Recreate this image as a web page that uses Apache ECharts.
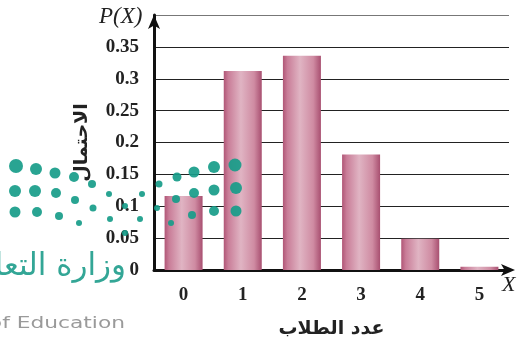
<!DOCTYPE html>
<html><head><meta charset="utf-8">
<script src="https://cdn.jsdelivr.net/npm/echarts@6/dist/echarts.min.js"></script>
<style>html,body{margin:0;padding:0;background:#fff}#c{width:517px;height:338px}</style>
</head><body><div id="c"></div>
<script>
const categories = ['0','1','2','3','4','5'];
const probabilities = [0.116, 0.312, 0.336, 0.181, 0.049, 0.005];
const yTicks = [0, 0.05, 0.1, 0.15, 0.2, 0.25, 0.3, 0.35, 0.4];
const yAxisTitle = 'الاحتمال';
const xAxisTitle = 'عدد الطلاب';

const serif = '"Liberation Serif","DejaVu Serif",serif';
const teal = '#179c89';
const dots = [
 [16,166,7],[36,169,6],[55,173,5.5],[74,177,5],[92,184,4],
 [15,191,6],[35,191,6],[56,193,5],[75,200,4],[93,208,3.5],
 [15,212,5.5],[37,212,5],[59,216,4],[79,223,3],
 [109,194,3],[110,219,3],[125,206,3],[142,194,3],[140,219,3],[125,233,3],
 [159,184,3.5],[157,208,3],
 [177,177,4.5],[194,172,5.5],[214,167,6],[235,165,6.5],
 [176,199,4],[194,193,5],[214,190,5.5],[236,188,6],
 [171,223,3],[192,215,4],[214,211,5],[236,211,5.5]
];

const chart = echarts.init(document.getElementById('c'), null, {renderer:'canvas'});
const barGrad = new echarts.graphic.LinearGradient(0,0,1,0,[
  {offset:0,color:'#b05676'},{offset:0.12,color:'#c97d98'},
  {offset:0.45,color:'#e0b4c3'},{offset:0.8,color:'#cf8ba2'},{offset:1,color:'#a84f70'}]);

chart.setOption({
  animation:false,
  grid:{left:154,right:8,top:15,bottom:68,containLabel:false,outerBoundsMode:'none'},
  xAxis:{type:'category',data:categories,
    axisLine:{lineStyle:{color:'#111',width:3},symbol:['none','arrow'],symbolSize:[9,14],symbolOffset:[0,6]},
    axisTick:{show:false},
    axisLabel:{color:'#222',fontFamily:serif,fontWeight:'bold',fontSize:19,margin:16},
    name:xAxisTitle,nameLocation:'middle',nameGap:50,
    nameTextStyle:{color:'#222',fontFamily:'"DejaVu Sans",sans-serif',fontWeight:'bold',fontSize:19}
  },
  yAxis:{type:'value',min:0,max:0.4,interval:0.05,
    axisLine:{show:true,lineStyle:{color:'#111',width:3},symbol:['none','arrow'],symbolSize:[9,14]},
    axisTick:{show:false},
    splitLine:{lineStyle:{color:['#222','#222','#222','#222','#222','#222','#222','#222','#777'],width:1.2}},
    axisLabel:{color:'#222',fontFamily:serif,fontWeight:'bold',fontSize:19,margin:15,
      formatter:v=>{ if (Math.abs(v-0.4)<1e-9) return ''; const t=yTicks.find(x=>Math.abs(x-v)<1e-9); return String(+t.toFixed(2)); }},
    name:yAxisTitle,nameLocation:'middle',nameRotate:90,nameGap:62,
    nameTextStyle:{color:'#222',fontFamily:'"DejaVu Sans",sans-serif',fontWeight:'bold',fontSize:19}
  },
  series:[{type:'bar',data:probabilities,barWidth:38,
    itemStyle:{color:barGrad}}],
  graphic:[
    {type:'text',left:99,top:5,z:10,style:{text:'P(X)',font:'italic 23px '+serif,fill:'#222'}},
    {type:'text',left:502,top:274,z:10,style:{text:'X',font:'italic 22px '+serif,fill:'#222'}},
    ...dots.map(d=>({type:'circle',z:20,shape:{cx:d[0],cy:d[1],r:d[2]},style:{fill:teal,opacity:0.92}})),
    {type:'text',z:20,style:{text:'وزارة التعليم',x:126,y:267,align:'right',verticalAlign:'middle',font:'31px "DejaVu Sans",sans-serif',fill:'#33a696'}},
    {type:'text',z:20,x:125,y:324,scaleX:1.45,style:{text:'Ministry of Education',x:0,y:0,align:'right',verticalAlign:'middle',font:'15px "DejaVu Sans",sans-serif',fill:'#9a9a9a'}}
  ]
});
</script></body></html>
